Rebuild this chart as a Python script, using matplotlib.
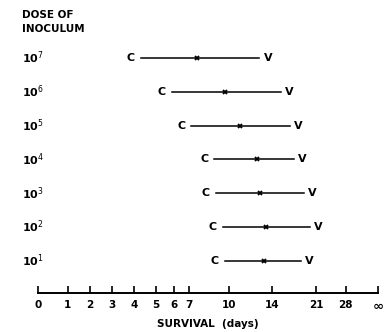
import matplotlib
matplotlib.use("Agg")
import matplotlib.pyplot as plt
import numpy as np

# survival axis ticks (last one is "infinity")
tick_days = [0, 1, 2, 3, 4, 5, 6, 7, 10, 14, 21, 28, 35]
tick_labels = ["0", "1", "2", "3", "4", "5", "6", "7", "10", "14", "21", "28", "\u221e"]

# dose of inoculum, log10
doses = [7, 6, 5, 4, 3, 2, 1]
# survival (days): C end, midpoint mark, V end
c_days = [4.3, 5.9, 7.2, 8.9, 9.0, 9.5, 9.7]
mid_days = [7.6, 9.7, 11.0, 12.6, 12.9, 13.4, 13.2]
v_days = [12.8, 15.4, 16.8, 17.4, 19.0, 20.0, 18.6]

# the printed axis is hand-spaced, so map the ticks onto the pixel spacing
scale_pos = np.array([0, 29.4, 51.7, 74, 96, 117.7, 135.4, 150.4, 191, 234, 277.7, 307.4, 340]) / 340.0

def fwd(x):
    return np.interp(x, tick_days, scale_pos)

def inv(x):
    return np.interp(x, scale_pos, tick_days)

fig = plt.figure(figsize=(3.85, 3.32), dpi=100)
ax = fig.add_axes([38.3 / 385, 39 / 332, 340 / 385, 1 - 39 / 332])
ax.set_xscale("function", functions=(fwd, inv))
ax.set_xlim(0, 35)
ax.set_ylim(0.054, 8.714)

fs = 7.5
for d, c, m, v in zip(doses, c_days, mid_days, v_days):
    ax.plot([c, v], [d, d], color="black", lw=1.1)
    ax.plot(m, d, marker="x", color="black", ms=3.5, mew=1.3)
    ax.annotate("C", (c, d), xytext=(-4.5, 0), textcoords="offset points",
                ha="right", va="center", fontsize=fs + 0.5, fontweight="bold")
    ax.annotate("V", (v, d), xytext=(3, 0), textcoords="offset points",
                ha="left", va="center", fontsize=fs + 0.5, fontweight="bold")
    fig.text(22 / 385, ax.transData.transform((0, d))[1] / 332, "10$^{%d}$" % d,
             ha="left", va="center", fontsize=fs + 0.5, fontweight="bold")

fig.text(22 / 385, 1 - 21.5 / 332, "DOSE OF\nINOCULUM", ha="left", va="center",
         fontsize=fs, fontweight="bold", linespacing=1.5)

ax.set_xticks(tick_days)
ax.set_xticklabels(tick_labels, fontsize=fs, fontweight="bold")
ax.get_xticklabels()[-1].set_fontsize(9.5)
ax.tick_params(axis="x", direction="in", length=5, width=1.2, pad=5)
ax.set_yticks([])
for s in ["left", "right", "top"]:
    ax.spines[s].set_visible(False)
ax.spines["bottom"].set_linewidth(1.4)
ax.set_xlabel("SURVIVAL  (days)", fontsize=fs, fontweight="bold")
ax.xaxis.set_label_coords(0.5, -(319 - 293) / 293)

fig.savefig("out.png", dpi=100)
